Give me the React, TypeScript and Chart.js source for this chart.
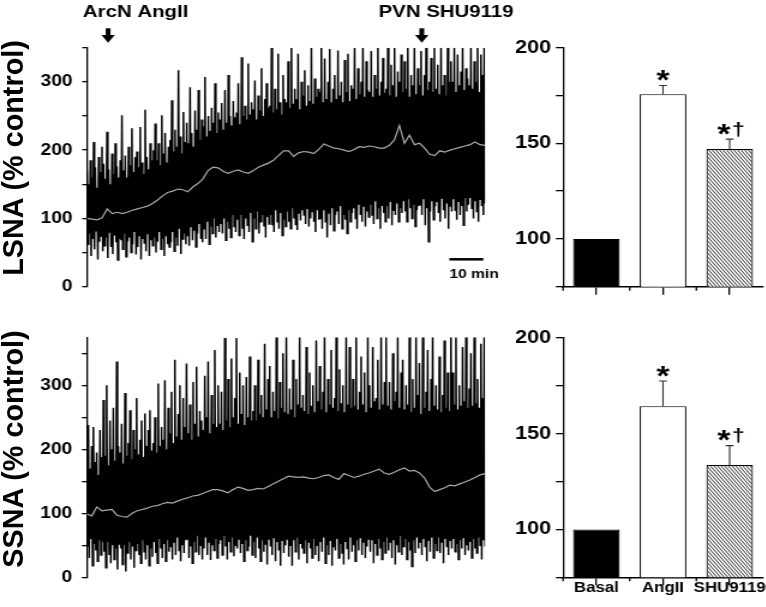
import React, { useEffect, useRef } from 'react';
import { Chart, registerables } from 'chart.js';

Chart.register(...registerables);

const FONT = '"Liberation Sans", Arial, Helvetica, sans-serif';

// ---------------- data ----------------
const traceMinutes = 117;
const traceTickLabels = [0, 100, 200, 300];
const traceEvents = ['ArcN AngII', 'PVN SHU9119'];
const traceEventMinutes = [6.2, 98.4];
const scaleBarMinutes = [106.5, 116.5];
const scaleBarLabel = '10 min';

// LSNA raw trace: successive spike tips (upper / lower) and running mean
const lsnaSpikeHigh = [
  170, 150, 185, 160, 212, 175, 145, 190, 168, 205,
  180, 158, 227, 172, 150, 195, 165, 210, 176, 160,
  185, 251, 170, 192, 160, 205, 178, 232, 168, 190,
  198, 175, 234, 182, 165, 259, 190, 172, 210, 185,
  200, 239, 185, 210, 178, 251, 195, 225, 182, 205,
  215, 273, 198, 230, 205, 317, 220, 195, 256, 212,
  240, 210, 292, 225, 205, 258, 230, 288, 215, 245,
  235, 307, 220, 250, 228, 262, 240, 298, 225, 255,
  245, 269, 230, 288, 240, 310, 250, 236, 272, 248,
  255, 298, 238, 336, 250, 265, 245, 327, 252, 270,
  260, 302, 245, 280, 258, 320, 250, 275, 298, 262,
  265, 350, 255, 290, 260, 341, 270, 252, 310, 275,
  270, 330, 262, 350, 268, 290, 275, 341, 260, 300,
  280, 317, 265, 295, 272, 350, 268, 305, 278, 290,
  285, 350, 270, 334, 275, 300, 348, 270, 290, 310,
  275, 346, 280, 300, 270, 332, 285, 341, 272, 295,
  290, 350, 275, 320, 282, 300, 350, 278, 330, 288,
  285, 345, 278, 310, 290, 350, 280, 300, 335, 284,
  290, 350, 280, 325, 295, 350, 278, 315, 300, 340,
  285, 330, 290, 350, 278, 310, 295, 350, 282, 320,
  295, 345, 280, 310, 350, 288, 300, 335, 285, 350,
  290, 325, 282, 350, 295, 310, 280, 350, 300, 330,
  300, 350, 285, 340, 295, 315, 350, 288, 320, 305,
  295, 350, 290, 330, 300, 350, 285, 340, 310, 350,
];
const lsnaSpikeLow = [
  62, 78, 45, 70, 55, 82, 40, 66, 74, 52,
  60, 72, 42, 80, 58, 48, 75, 65, 39, 70,
  68, 55, 78, 44, 66, 72, 50, 62, 80, 47,
  58, 75, 40, 70, 64, 52, 78, 45, 68, 60,
  72, 50, 66, 80, 55, 70, 45, 75, 62, 58,
  65, 80, 52, 72, 60, 85, 48, 70, 78, 62,
  75, 60, 88, 68, 82, 58, 78, 92, 70, 65,
  85, 70, 95, 62, 88, 78, 100, 72, 90, 80,
  92, 78, 100, 68, 95, 85, 72, 105, 88, 80,
  98, 75, 105, 85, 70, 100, 90, 80, 108, 66,
  100, 85, 110, 78, 95, 105, 88, 72, 102, 92,
  105, 90, 80, 112, 95, 85, 108, 75, 98, 88,
  110, 95, 85, 115, 100, 90, 83, 108, 97, 112,
  105, 92, 115, 88, 100, 110, 95, 80, 112, 98,
  100, 85, 112, 95, 72, 108, 90, 115, 82, 105,
  110, 92, 118, 85, 105, 98, 78, 112, 95, 108,
  115, 100, 85, 120, 105, 95, 118, 88, 110, 102,
  120, 105, 92, 125, 100, 115, 85, 118, 108, 95,
  118, 100, 125, 90, 112, 105, 122, 95, 115, 108,
  125, 110, 95, 128, 115, 100, 120, 88, 112, 118,
  120, 105, 128, 90, 115, 66, 110, 125, 98, 118,
  125, 108, 95, 130, 112, 100, 122, 85, 118, 110,
  128, 112, 98, 125, 105, 118, 90, 130, 110, 120,
  130, 115, 100, 125, 110, 95, 128, 118, 105, 122,
];
const lsnaMean = [
  100, 99, 98, 101, 114, 107, 109, 107, 109, 112,
  114, 116, 118, 122, 127, 133, 138, 140, 143, 142,
  139, 146, 151, 158, 170, 175, 174, 169, 166, 169,
  171, 168, 166, 170, 175, 178, 181, 185, 192, 199,
  199, 191, 196, 198, 197, 195, 201, 209, 206, 203,
  202, 200, 198, 201, 205, 204, 206, 205, 203, 203,
  207, 215, 236, 210, 222, 208, 210, 203, 194, 192,
  199, 197, 200, 202, 204, 206, 208, 212, 208, 207,
];

// SSNA raw trace
const ssnaSpikeHigh = [
  185, 238, 170, 205, 235, 180, 195, 160, 230, 188,
  277, 190, 300, 175, 245, 200, 265, 182, 337, 205,
  195, 240, 178, 288, 190, 210, 261, 185, 230, 200,
  280, 192, 215, 245, 188, 256, 205, 230, 261, 198,
  210, 250, 195, 303, 205, 235, 215, 308, 200, 265,
  225, 290, 210, 340, 220, 255, 300, 215, 280, 235,
  334, 225, 270, 215, 305, 240, 329, 220, 260, 245,
  230, 315, 250, 337, 225, 285, 240, 355, 235, 300,
  240, 290, 230, 374, 245, 310, 235, 342, 250, 280,
  374, 240, 320, 255, 300, 238, 313, 250, 345, 245,
  260, 300, 245, 340, 255, 285, 250, 365, 262, 310,
  330, 250, 290, 260, 375, 248, 305, 265, 350, 258,
  375, 255, 295, 262, 340, 250, 310, 270, 375, 265,
  285, 260, 360, 255, 320, 268, 300, 258, 370, 275,
  330, 262, 290, 375, 258, 310, 270, 355, 265, 280,
  375, 260, 325, 272, 300, 258, 375, 270, 360, 265,
  310, 268, 375, 262, 290, 345, 270, 320, 258, 375,
  300, 265, 360, 275, 280, 340, 262, 375, 270, 305,
  375, 268, 305, 262, 350, 275, 290, 375, 265, 320,
  340, 262, 300, 270, 375, 258, 310, 265, 375, 285,
  335, 255, 375, 265, 290, 355, 260, 310, 375, 268,
  300, 262, 345, 258, 285, 370, 265, 320, 260, 375,
  320, 270, 375, 262, 300, 268, 360, 275, 375, 265,
  295, 350, 268, 375, 272, 310, 265, 365, 280, 375,
];
const ssnaSpikeLow = [
  48, 30, 60, 18, 52, 42, 25, 58, 35, 55,
  40, 15, 55, 35, 22, 50, 28, 45, 12, 52,
  45, 20, 50, 9, 38, 55, 28, 48, 15, 42,
  52, 35, 22, 58, 40, 28, 50, 18, 45, 32,
  55, 38, 22, 60, 45, 30, 52, 25, 58, 40,
  48, 28, 55, 35, 62, 42, 25, 50, 38, 58,
  60, 30, 48, 22, 55, 40, 65, 35, 50, 28,
  45, 62, 35, 55, 27, 50, 42, 60, 30, 52,
  58, 35, 65, 48, 28, 55, 40, 62, 33, 50,
  45, 60, 38, 52, 25, 58, 42, 48, 65, 35,
  55, 30, 62, 45, 25, 58, 40, 52, 20, 60,
  48, 35, 62, 25, 55, 42, 18, 58, 38, 50,
  60, 32, 50, 18, 58, 40, 62, 28, 52, 45,
  38, 58, 22, 55, 45, 30, 60, 35, 50, 25,
  55, 40, 62, 22, 50, 35, 58, 18, 48, 42,
  60, 30, 52, 38, 20, 55, 45, 28, 62, 40,
  50, 25, 58, 42, 62, 35, 55, 30, 48, 60,
  40, 58, 22, 52, 35, 60, 45, 28, 55, 38,
  62, 42, 55, 30, 58, 20, 50, 40, 65, 35,
  48, 60, 28, 55, 42, 17, 58, 38, 62, 45,
  55, 35, 60, 48, 25, 58, 40, 62, 30, 52,
  42, 62, 38, 55, 22, 60, 47, 35, 58, 45,
  60, 40, 52, 28, 58, 45, 62, 35, 50, 42,
  55, 30, 60, 45, 38, 62, 50, 28, 58, 48,
];
const ssnaMean = [
  99, 96, 110, 104, 105, 106, 97, 95, 94, 100,
  104, 106, 108, 111, 112, 115, 117, 116, 119, 122,
  124, 127, 128, 131, 134, 137, 137, 135, 132, 137,
  141, 139, 136, 137, 139, 138, 142, 146, 150, 154,
  158, 157, 156, 157, 155, 154, 156, 159, 160, 156,
  153, 162, 159, 156, 158, 161, 163, 166, 169, 163,
  161, 164, 168, 171, 166, 167, 163, 155, 141, 134,
  137, 140, 144, 143, 146, 149, 152, 156, 160, 162,
];

// Bar summaries
const barCategories = ['Basal', 'AngII', 'SHU9119'];
const barTickLabels = [100, 150, 200];
const lsnaBarMeans = [100, 175.7, 147.0];
const lsnaBarErr = [0, 4.5, 5.2];
const ssnaBarMeans = [100, 164.3, 133.6];
const ssnaBarErr = [0, 13.1, 10.1];
const barMarks = ['', '*', '*\u2020'];

// ---------------- helpers ----------------
function evenly(vals: number[]) {
  return vals.map((y, i) => ({ x: (i * traceMinutes) / (vals.length - 1), y }));
}
function zigzag(high: number[], low: number[]) {
  const n = high.length * 2;
  const pts: { x: number; y: number }[] = [];
  for (let k = 0; k < n; k++) {
    pts.push({ x: (k * traceMinutes) / (n - 1), y: k % 2 === 0 ? high[k >> 1] : low[k >> 1] });
  }
  return pts;
}

function traceAnnotations(): any {
  const labelShift = [-21, -36];
  return {
    id: 'traceAnnotations',
    afterDraw(chart: any) {
      const ctx = chart.ctx;
      const xs = chart.scales.x;
      ctx.save();
      ctx.fillStyle = '#000';
      ctx.strokeStyle = '#000';
      traceEvents.forEach((label, i) => {
        const px = xs.getPixelForValue(traceEventMinutes[i]);
        ctx.fillRect(px - 2, 28.3, 4, 7);
        ctx.beginPath();
        ctx.moveTo(px - 5.6, 35);
        ctx.lineTo(px + 5.6, 35);
        ctx.lineTo(px, 42.7);
        ctx.closePath();
        ctx.fill();
        ctx.font = `bold 17px ${FONT}`;
        ctx.textAlign = 'left';
        ctx.textBaseline = 'alphabetic';
        ctx.fillText(label, px + labelShift[i], 16.7);
      });
      const x1 = xs.getPixelForValue(scaleBarMinutes[0]);
      const x2 = xs.getPixelForValue(scaleBarMinutes[1]);
      ctx.lineWidth = 2.5;
      ctx.beginPath();
      ctx.moveTo(x1, 259.3);
      ctx.lineTo(x2, 259.3);
      ctx.stroke();
      ctx.font = `bold 13px ${FONT}`;
      ctx.textAlign = 'left';
      ctx.textBaseline = 'alphabetic';
      ctx.fillText(scaleBarLabel, x1, 278.3);
      ctx.restore();
    },
  };
}

function traceConfig(p: {
  high: number[]; low: number[]; mean: number[];
  yMax: number; yWidth: number; padding: any; annotate: boolean;
}): any {
  return {
    type: 'line',
    data: {
      datasets: [
        { data: evenly(p.mean), borderColor: '#aaaaaa', borderWidth: 1.2, pointRadius: 0, fill: false, order: 0 },
        { data: zigzag(p.high, p.low), borderColor: '#000', borderWidth: 1.5, pointRadius: 0, fill: false, order: 1 },
      ],
    },
    options: {
      animation: false,
      responsive: false,
      devicePixelRatio: 1,
      layout: { padding: p.padding },
      plugins: { legend: { display: false }, tooltip: { enabled: false } },
      elements: { line: { tension: 0, borderJoinStyle: 'miter' } },
      scales: {
        x: { type: 'linear', min: 0, max: traceMinutes, display: false },
        y: {
          type: 'linear',
          min: 0,
          max: p.yMax,
          afterFit: (s: any) => { s.width = p.yWidth; },
          border: { display: true, color: '#000', width: 1.3 },
          grid: { drawOnChartArea: false, drawTicks: true, tickLength: 4, color: '#000', lineWidth: 1.3 },
          ticks: {
            stepSize: 50,
            includeBounds: false,
            padding: 8,
            color: '#000',
            font: { family: FONT, size: 16, weight: 'bold' },
            callback: (v: any) => (traceTickLabels.includes(Number(v)) ? String(v) : ''),
          },
        },
      },
    },
    plugins: p.annotate ? [traceAnnotations()] : [],
  };
}

function makeHatch(): any {
  const c = document.createElement('canvas');
  c.width = 3;
  c.height = 4;
  const g = c.getContext('2d')!;
  g.fillStyle = '#fff';
  g.fillRect(0, 0, 3, 4);
  g.strokeStyle = '#1a1a1a';
  g.lineWidth = 0.9;
  for (const k of [-1, 0, 1]) {
    g.beginPath();
    g.moveTo(3 * k, 0);
    g.lineTo(3 * k + 3, 4);
    g.stroke();
  }
  return g.createPattern(c, 'repeat');
}

function glyph(ctx: any, ch: string, font: string, cx: number, cy: number) {
  ctx.font = font;
  ctx.textAlign = 'left';
  ctx.textBaseline = 'alphabetic';
  const m = ctx.measureText(ch);
  const x = cx - (m.actualBoundingBoxRight - m.actualBoundingBoxLeft) / 2;
  const yb = cy + (m.actualBoundingBoxAscent - m.actualBoundingBoxDescent) / 2;
  ctx.fillText(ch, x, yb);
}

function barAnnotations(means: number[], errs: number[], marks: string[]): any {
  return {
    id: 'barAnnotations',
    afterDatasetsDraw(chart: any) {
      const ctx = chart.ctx;
      const y = chart.scales.y;
      const x = chart.scales.x;
      const meta = chart.getDatasetMeta(0);
      ctx.save();
      ctx.strokeStyle = '#000';
      ctx.lineWidth = 1.3;
      for (let i = 0; i < barCategories.length; i++) {
        const px = x.getPixelForValue(i - 0.5);
        ctx.beginPath();
        ctx.moveTo(px, x.top);
        ctx.lineTo(px, x.top + 4);
        ctx.stroke();
      }
      meta.data.forEach((bar: any, i: number) => {
        let top = bar.y;
        if (errs[i] > 0) {
          const yTop = y.getPixelForValue(means[i] + errs[i]);
          ctx.strokeStyle = '#333';
          ctx.lineWidth = 1.1;
          ctx.beginPath();
          ctx.moveTo(bar.x, bar.y);
          ctx.lineTo(bar.x, yTop);
          ctx.moveTo(bar.x - 3.3, yTop);
          ctx.lineTo(bar.x + 3.3, yTop);
          ctx.stroke();
          top = yTop;
        }
        const mark = marks[i];
        ctx.fillStyle = '#000';
        if (mark.length === 1) {
          glyph(ctx, mark, `bold 28px ${FONT}`, bar.x, top - 10);
        } else if (mark.length === 2) {
          glyph(ctx, mark[0], `bold 28px ${FONT}`, bar.x - 4.8, top - 10);
          glyph(ctx, mark[1], `bold 19px ${FONT}`, bar.x + 7.5, top - 10);
        }
      });
      ctx.restore();
    },
  };
}

function barConfig(p: { means: number[]; errs: number[]; showLabels: boolean; xHeight: number; padding: any; yWidth: number }): any {
  return {
    type: 'bar',
    data: {
      labels: barCategories,
      datasets: [
        {
          data: p.means,
          backgroundColor: ['#000', '#fff', makeHatch()],
          borderColor: '#000',
          borderWidth: 1.2,
          barPercentage: 0.7,
          categoryPercentage: 1,
        },
      ],
    },
    options: {
      animation: false,
      responsive: false,
      devicePixelRatio: 1,
      layout: { padding: p.padding },
      plugins: { legend: { display: false }, tooltip: { enabled: false } },
      scales: {
        x: {
          type: 'category',
          afterFit: (s: any) => { s.height = p.xHeight; },
          border: { display: true, color: '#000', width: 1.5 },
          grid: { offset: false, drawOnChartArea: false, drawTicks: true, tickLength: 8, color: '#000', lineWidth: 1.3 },
          ticks: {
            display: p.showLabels,
            padding: -5.5,
            color: '#000',
            font: { family: FONT, size: 14, weight: 'bold' },
            maxRotation: 0,
            autoSkip: false,
          },
        },
        y: {
          type: 'linear',
          min: 75,
          max: 200,
          beginAtZero: false,
          afterFit: (s: any) => { s.width = p.yWidth; },
          border: { display: true, color: '#000', width: 1.3 },
          grid: { drawOnChartArea: false, drawTicks: true, tickLength: 6, color: '#000', lineWidth: 1.3 },
          ticks: {
            stepSize: 25,
            padding: 4,
            color: '#000',
            font: { family: FONT, size: 18, weight: 'bold' },
            callback: (v: any) => (barTickLabels.includes(Number(v)) ? String(v) : ''),
          },
        },
      },
    },
    plugins: [barAnnotations(p.means, p.errs, barMarks)],
  };
}

function ChartCanvas(props: { make: () => any; left: number; top: number; width: number; height: number }) {
  const ref = useRef<HTMLCanvasElement>(null);
  useEffect(() => {
    const chart = new Chart(ref.current as HTMLCanvasElement, props.make());
    return () => chart.destroy();
  }, []);
  return (
    <canvas
      ref={ref}
      width={props.width}
      height={props.height}
      style={{ position: 'absolute', left: props.left, top: props.top, width: props.width, height: props.height }}
    />
  );
}

const yTitleStyle = (top: number): React.CSSProperties => ({
  position: 'absolute',
  left: 11.1,
  top,
  transform: 'translate(-50%, -50%) rotate(-90deg) scaleX(1.2)',
  whiteSpace: 'nowrap',
  font: `bold 24px ${FONT}`,
  lineHeight: 1,
  color: '#000',
});

export default function App() {
  return (
    <div
      style={{
        position: 'absolute',
        left: 0,
        top: 0,
        width: 638,
        height: 607,
        transform: 'scaleX(1.2)',
        transformOrigin: '0 0',
        background: '#fff',
      }}
    >
      <ChartCanvas
        left={0}
        top={0}
        width={440}
        height={310}
        make={() =>
          traceConfig({
            high: lsnaSpikeHigh, low: lsnaSpikeLow, mean: lsnaMean,
            yMax: 350, yWidth: 72.5, padding: { left: 0, top: 47.7, right: 35.8, bottom: 23.3 }, annotate: true,
          })
        }
      />
      <ChartCanvas
        left={0}
        top={310}
        width={440}
        height={297}
        make={() =>
          traceConfig({
            high: ssnaSpikeHigh, low: ssnaSpikeLow, mean: ssnaMean,
            yMax: 375, yWidth: 72.25, padding: { left: 0, top: 27.3, right: 35.8, bottom: 29.7 }, annotate: false,
          })
        }
      />
      <ChartCanvas
        left={430}
        top={0}
        width={208}
        height={310}
        make={() =>
          barConfig({ means: lsnaBarMeans, errs: lsnaBarErr, showLabels: false, xHeight: 10, yWidth: 39.2, padding: { left: 0, top: 47.7, right: 2.2, bottom: 13.3 } })
        }
      />
      <ChartCanvas
        left={430}
        top={310}
        width={208}
        height={297}
        make={() =>
          barConfig({ means: ssnaBarMeans, errs: ssnaBarErr, showLabels: true, xHeight: 25, yWidth: 39.2, padding: { left: 0, top: 27.7, right: 2.2, bottom: 4.7 } })
        }
      />
      <div style={yTitleStyle(158)}>LSNA (% control)</div>
      <div style={yTitleStyle(449)}>SSNA (% control)</div>
    </div>
  );
}
